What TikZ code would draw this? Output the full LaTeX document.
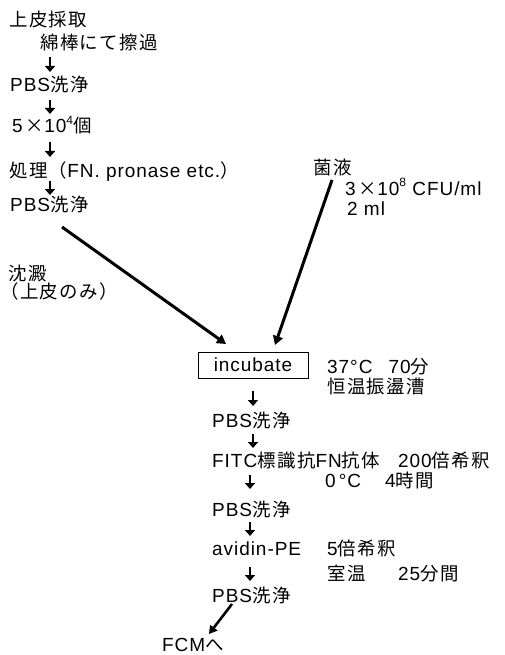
\documentclass[tikz,border=0pt]{standalone}
\usepackage{fontspec}
\setmainfont{Liberation Sans}[LetterSpace=5]
\newfontfamily\jp{Noto Sans CJK JP}[Scale=0.97,LetterSpace=8]
\newcommand\J[1]{{\jp #1}}
\newcommand\sups[1]{\raisebox{0.45em}{\fontsize{12}{12}\selectfont #1}}
\usetikzlibrary{arrows.meta}
\begin{document}
\begin{tikzpicture}[x=1pt,y=-1pt,
  txt/.style={inner sep=0pt, anchor=base west, font=\fontsize{19}{22}\selectfont},
  boxed/.style={draw, line width=1pt, minimum width=110pt, minimum height=26pt, inner sep=0pt, font=\fontsize{19}{22}\selectfont},
  darr/.style={line width=2.4pt, -{Triangle[length=6pt,width=10pt]}},
  bigarr/.style={line width=3pt, -{Triangle[length=9pt,width=10pt]}},
  midarr/.style={line width=2.6pt, -{Triangle[length=8pt,width=9pt]}}]
\useasboundingbox (0,0) rectangle (504,655);

% left column
\node[txt] (n1) at (9,27) {\J{上皮採取}};
\node[txt] (n2) at (40,50) {\J{綿棒にて擦過}};
\node[txt] (n3) at (10,92) {PBS\J{洗浄}};
\node[txt] (n4) at (12,133) {5\,\J{×}10\sups{4}\J{個}};
\node[txt] (n5) at (9,177) {\J{処理（}FN. pronase etc.\J{）}};
\node[txt] (n6) at (10,211) {PBS\J{洗浄}};
\node[txt] (n7) at (8,280) {\J{沈澱}};
\node[txt] (n8) at (0,298) {\J{（上皮のみ）}};

% bacteria
\node[txt] (n9) at (313,175) {\J{菌液}};
\node[txt] (n10) at (345,195) {3\,\J{×}10\sups{8} CFU/ml};
\node[txt] (n11) at (347,215) {2 ml};

% incubate
\node[boxed] (inc) at (253,365) {incubate};
\node[txt] (n12) at (327,373) {37°C\hspace{16pt}70\J{分}};
\node[txt] (n13) at (327,393) {\J{恒温振盪漕}};
\node[txt] (n14) at (212,427) {PBS\J{洗浄}};
\node[txt] (n15) at (212,467) {FITC\J{標識抗}FN\J{抗体}};
\node[txt] (n16) at (398,467) {200\J{倍希釈}};
\node[txt] (n17) at (325,487) {0\,°C};
\node[txt] (n17b) at (385,487) {4\J{時間}};
\node[txt] (n18) at (212,516) {PBS\J{洗浄}};
\node[txt] (n19) at (212,555) {avidin-PE};
\node[txt] (n20) at (327,555) {5\J{倍希釈}};
\node[txt] (n21) at (327,580) {\J{室温}};
\node[txt] (n21b) at (398,580) {25\J{分間}};
\node[txt] (n22) at (212,602) {PBS\J{洗浄}};
\node[txt] (n23) at (162,651) {FCM\J{へ}};

% small down arrows
\coordinate (a1s) at (50,57);  \coordinate (a1e) at (50,72);
\coordinate (a2s) at (50,100); \coordinate (a2e) at (50,114);
\coordinate (a3s) at (50,142); \coordinate (a3e) at (50,157);
\coordinate (a4s) at (50,181); \coordinate (a4e) at (50,195);
\coordinate (a5s) at (253,391); \coordinate (a5e) at (253,406);
\coordinate (a6s) at (253,434); \coordinate (a6e) at (253,448);
\coordinate (a7s) at (250,475); \coordinate (a7e) at (250,489);
\coordinate (a8s) at (250,522); \coordinate (a8e) at (250,536);
\coordinate (a9s) at (250,567); \coordinate (a9e) at (250,581);
\foreach \i in {1,...,9} \draw[darr] (a\i s) -- (a\i e);

% big arrows
\coordinate (b1s) at (62,227);  \coordinate (b1e) at (226,344);
\coordinate (b2s) at (332,180); \coordinate (b2e) at (275,345);
\coordinate (b3s) at (232,604); \coordinate (b3e) at (209,634);
\draw[bigarr] (b1s) -- (b1e);
\draw[bigarr] (b2s) -- (b2e);
\draw[midarr] (b3s) -- (b3e);
\end{tikzpicture}
\end{document}
